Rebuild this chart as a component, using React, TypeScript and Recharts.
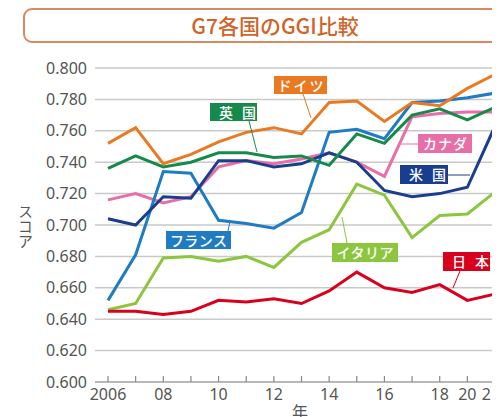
import { LineChart, Line, XAxis, YAxis, CartesianGrid } from "recharts";

const years = [2006, 2007, 2008, 2009, 2010, 2011, 2012, 2013, 2014, 2015, 2016, 2017, 2018, 2020, 2021];
const tickLabels: Record<number, string> = {
  2006: "2006", 2008: "08", 2010: "10", 2012: "12", 2014: "14",
  2016: "16", 2018: "18", 2020: "20", 2021: "21",
};
const yTicks = [0.6, 0.62, 0.64, 0.66, 0.68, 0.7, 0.72, 0.74, 0.76, 0.78, 0.8];

const germany = [0.752, 0.762, 0.739, 0.745, 0.753, 0.759, 0.762, 0.758, 0.778, 0.779, 0.766, 0.778, 0.776, 0.787, 0.796];
const uk = [0.736, 0.744, 0.737, 0.740, 0.746, 0.746, 0.743, 0.744, 0.738, 0.758, 0.752, 0.770, 0.774, 0.767, 0.775];
const canada = [0.716, 0.720, 0.714, 0.718, 0.737, 0.741, 0.739, 0.742, 0.746, 0.740, 0.731, 0.769, 0.771, 0.772, 0.772];
const usa = [0.704, 0.700, 0.718, 0.717, 0.741, 0.741, 0.737, 0.739, 0.746, 0.740, 0.722, 0.718, 0.720, 0.724, 0.763];
const france = [0.652, 0.681, 0.734, 0.733, 0.703, 0.701, 0.698, 0.708, 0.759, 0.761, 0.755, 0.778, 0.779, 0.781, 0.784];
const italy = [0.646, 0.650, 0.679, 0.680, 0.677, 0.680, 0.673, 0.689, 0.697, 0.726, 0.719, 0.692, 0.706, 0.707, 0.721];
const japan = [0.645, 0.645, 0.643, 0.645, 0.652, 0.651, 0.653, 0.650, 0.658, 0.670, 0.660, 0.657, 0.662, 0.652, 0.656];

const data = years.map((year, i) => ({
  year,
  germany: germany[i],
  uk: uk[i],
  canada: canada[i],
  usa: usa[i],
  france: france[i],
  italy: italy[i],
  japan: japan[i],
}));

const COLORS = {
  germany: "#ea7a22",
  uk: "#178a4b",
  canada: "#e86ea8",
  usa: "#1a3e8f",
  france: "#1f7cc2",
  italy: "#8cc63f",
  japan: "#d9001e",
};

const FONT = '"Noto Sans", "Noto Sans CJK JP", sans-serif';
const JP = '"Noto Sans CJK JP", "Noto Sans", sans-serif';

const XTick = (props: any) => {
  const { x, y, payload } = props;
  const label = tickLabels[payload.value] || "";
  // last label sits against the right edge, nudge it in a bit
  const dx = payload.value === 2021 ? -4 : 0;
  return (
    <g>
      <line x1={x} x2={x} y1={y - 6} y2={y} stroke="#888" strokeWidth={1.2} />
      <text x={x + dx} y={y + 18} textAnchor="middle" fontSize={16} fill="#555" fontFamily={FONT}>
        {label}
      </text>
    </g>
  );
};

// label boxes + leader lines (container coords)
const boxes = [
  { text: "ドイツ", color: COLORS.germany, left: 266, top: 68, w: 53, h: 18, ls: 2 },
  { text: "英国", color: COLORS.uk, left: 202, top: 95, w: 47, h: 18, ls: 9 },
  { text: "カナダ", color: COLORS.canada, left: 410, top: 126, w: 54, h: 19, ls: 1 },
  { text: "米国", color: COLORS.usa, left: 392, top: 157, w: 48, h: 19, ls: 9 },
  { text: "フランス", color: COLORS.france, left: 158, top: 223, w: 65, h: 18, ls: 0.5 },
  { text: "イタリア", color: COLORS.italy, left: 324, top: 235, w: 66, h: 19, ls: 0.5 },
  { text: "日本", color: COLORS.japan, left: 435, top: 244, w: 47, h: 19, ls: 9 },
];
const leaders = [
  { x1: 295, y1: 86, x2: 303, y2: 110, c: COLORS.germany },
  { x1: 241, y1: 113, x2: 249, y2: 144, c: COLORS.uk },
  { x1: 392, y1: 136, x2: 410, y2: 136, c: COLORS.canada },
  { x1: 440, y1: 167, x2: 462, y2: 167, c: COLORS.usa },
  { x1: 220, y1: 223, x2: 222, y2: 213, c: COLORS.france },
  { x1: 339, y1: 235, x2: 334, y2: 209, c: COLORS.italy },
  { x1: 452, y1: 263, x2: 445, y2: 280, c: COLORS.japan },
];

export default function App() {
  return (
    <div style={{ position: "relative", width: 492, height: 409, overflow: "hidden", background: "#fff", fontFamily: FONT }}>
      <div
        style={{
          position: "absolute",
          left: 15,
          top: 0,
          width: 520,
          height: 31,
          border: "2px solid #d98a5c",
          borderRadius: 9,
          boxSizing: "content-box",
        }}
      />
      <div
        style={{
          position: "absolute",
          left: 177,
          top: 2,
          width: 180,
          textAlign: "center",
          fontSize: 21,
          fontWeight: 500,
          color: "#d0642a",
          fontFamily: JP,
          lineHeight: "31px",
          whiteSpace: "nowrap",
        }}
      >
        G7各国のGGI比較
      </div>

      <div style={{ position: "absolute", left: 0, top: 0 }}>
        <LineChart width={510} height={409} data={data} margin={{ top: 60, right: 10, bottom: 5, left: 30 }}>
          <CartesianGrid vertical={false} stroke="#c9c9c9" strokeWidth={1.5} />
          <XAxis
            dataKey="year"
            type="category"
            interval={0}
            padding={{ left: 13, right: 13 }}
            tickSize={0}
            tickMargin={0}
            tickLine={false}
            axisLine={{ stroke: "#999", strokeWidth: 1.2 }}
            tick={<XTick />}
            height={30}
          />
          <YAxis
            type="number"
            domain={[0.6, 0.8]}
            ticks={yTicks}
            width={57}
            axisLine={false}
            tickLine={false}
            tickFormatter={(v: number) => v.toFixed(3)}
            tick={{ fontSize: 16, fill: "#555", fontFamily: FONT }}
          />
          <Line dataKey="italy" stroke={COLORS.italy} strokeWidth={3} dot={false} isAnimationActive={false} />
          <Line dataKey="japan" stroke={COLORS.japan} strokeWidth={3} dot={false} isAnimationActive={false} />
          <Line dataKey="canada" stroke={COLORS.canada} strokeWidth={3} dot={false} isAnimationActive={false} />
          <Line dataKey="france" stroke={COLORS.france} strokeWidth={3} dot={false} isAnimationActive={false} />
          <Line dataKey="usa" stroke={COLORS.usa} strokeWidth={3} dot={false} isAnimationActive={false} />
          <Line dataKey="uk" stroke={COLORS.uk} strokeWidth={3} dot={false} isAnimationActive={false} />
          <Line dataKey="germany" stroke={COLORS.germany} strokeWidth={3} dot={false} isAnimationActive={false} />
        </LineChart>
      </div>

      <svg width={492} height={409} style={{ position: "absolute", left: 0, top: 0, pointerEvents: "none" }}>
        {leaders.map((l, i) => (
          <line key={i} x1={l.x1} y1={l.y1} x2={l.x2} y2={l.y2} stroke={l.c} strokeWidth={1} />
        ))}
      </svg>

      {boxes.map((b) => (
        <div
          key={b.text}
          style={{
            position: "absolute",
            left: b.left,
            top: b.top,
            width: b.w,
            height: b.h,
            background: b.color,
            color: "#fff",
            fontSize: 14,
            fontFamily: JP,
            fontWeight: 500,
            lineHeight: `${b.h}px`,
            textAlign: "center",
            letterSpacing: b.ls,
            textIndent: b.ls,
            whiteSpace: "nowrap",
          }}
        >
          {b.text}
        </div>
      ))}

      <div
        style={{
          position: "absolute",
          left: 10,
          top: 196,
          writingMode: "vertical-rl",
          fontSize: 15,
          color: "#555",
          fontFamily: JP,
          lineHeight: "15px",
        }}
      >
        スコア
      </div>
      <div
        style={{
          position: "absolute",
          left: 284,
          top: 394,
          fontSize: 16,
          color: "#555",
          fontFamily: JP,
          lineHeight: "18px",
        }}
      >
        年
      </div>
    </div>
  );
}
